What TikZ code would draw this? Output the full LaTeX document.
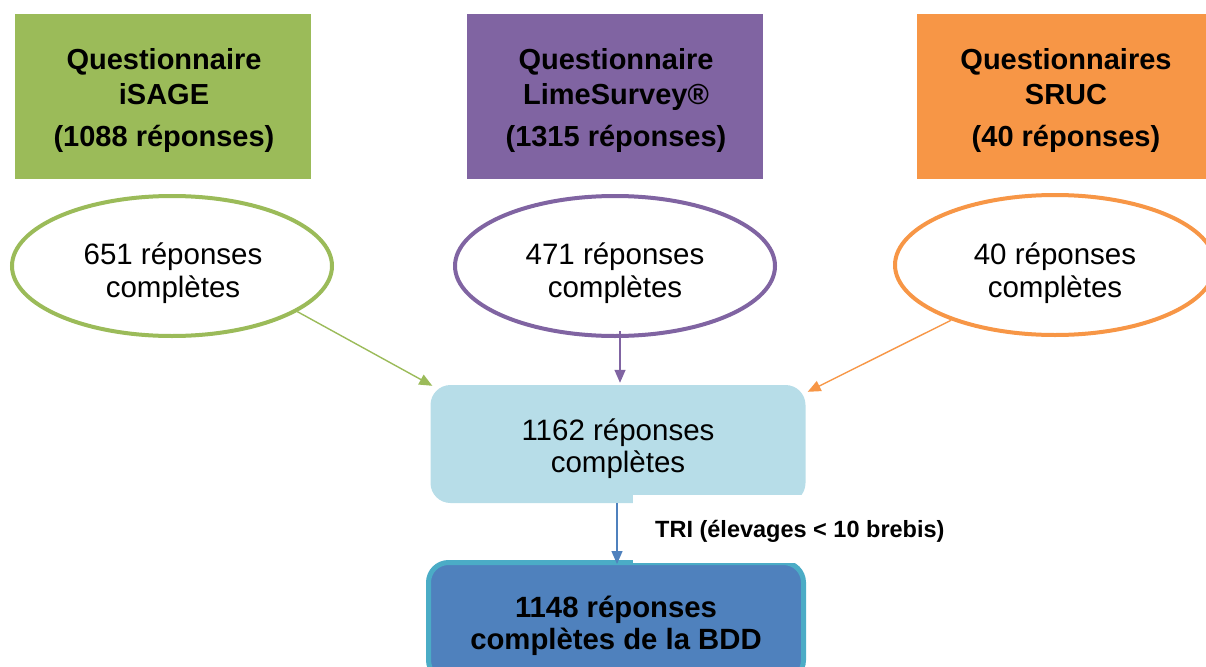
\documentclass[tikz,border=0pt]{standalone}
\usepackage{fontspec}
\setmainfont{Liberation Sans}
\usetikzlibrary{arrows.meta,shapes.geometric,calc}
\definecolor{cgreen}{HTML}{9BBB59}
\definecolor{cpurple}{HTML}{8064A2}
\definecolor{corange}{HTML}{F79646}
\definecolor{clight}{HTML}{B7DDE8}
\definecolor{cdark}{HTML}{4F81BD}
\definecolor{cborder}{HTML}{4BACC6}
\tikzset{
  srcbox/.style={rectangle, minimum width=296pt, minimum height=165pt, inner sep=0pt},
  srctext/.style={inner sep=0pt, align=center, font=\bfseries\fontsize{29}{35}\selectfont},
  oval/.style={ellipse, draw, line width=4pt, fill=white, minimum width=320pt, minimum height=140pt,
    inner sep=0pt},
  ovaltext/.style={inner sep=0pt, align=center, font=\fontsize{29.5}{33}\selectfont},
  conn/.style={line width=1.4pt, -{Triangle[length=13pt,width=11pt]}},
  trilabel/.style={inner sep=0pt, font=\bfseries\fontsize{23.5}{28}\selectfont}
}
\begin{document}
\begin{tikzpicture}[x=1pt,y=-1pt]
\useasboundingbox (0,0) rectangle (1206,666);
\clip (0,0) rectangle (1206,666);
% source boxes
\node[srcbox, fill=cgreen] (q1) at (163,96.5) {};
\node[srcbox, fill=cpurple] (q2) at (615,96.5) {};
\node[srcbox, fill=corange] (q3) at (1065,96.5) {};
\node[srctext] (q1t) at (164,101) {Questionnaire\\iSAGE\\[7pt] (1088 réponses)};
\node[srctext] (q2t) at (616,101) {Questionnaire\\LimeSurvey®\\[7pt] (1315 réponses)};
\node[srctext] (q3t) at (1066,101) {Questionnaires\\SRUC\\[7pt] (40 réponses)};
% ellipses
\node[oval, draw=cgreen] (e1) at (172,266) {};
\node[oval, draw=cpurple] (e2) at (615,266) {};
\node[oval, draw=corange] (e3) at (1055,265) {};
\node[ovaltext] (e1t) at (173,273.5) {651 réponses\\complètes};
\node[ovaltext] (e2t) at (615,273.5) {471 réponses\\complètes};
\node[ovaltext] (e3t) at (1055,273) {40 réponses\\complètes};
% merged box
\node[rectangle, rounded corners=20pt, fill=clight, minimum width=375pt, minimum height=118pt,
  inner sep=0pt] (mid) at (618,444) {};
\node[ovaltext, font=\fontsize{29.5}{32}\selectfont] (midt) at (618,449) {1162 réponses\\complètes};
% final box
\node[rectangle, rounded corners=20pt, fill=cdark, draw=cborder, line width=5pt,
  minimum width=375pt, minimum height=117.5pt, inner sep=0pt] (bot) at (616,621.25) {};
\node[srctext, font=\bfseries\fontsize{29.3}{32}\selectfont] (bott) at (616,625.5)
  {1148 réponses\\complètes de la BDD};
% label with its white background
\node[rectangle, fill=white, inner sep=0pt, minimum width=340pt, minimum height=68pt, anchor=west]
  (trib) at (633,529) {};
\node[trilabel, anchor=west] (tri) at (655,531) {TRI (élevages < 10 brebis)};
% connectors
\draw[conn, cgreen] (e1.-20) -- ($(mid.north west)+(2,1)$);
\draw[conn, cpurple] ($(e2.south)+(5,-7)$) -- ($(e2.south |- mid.north)+(5,-2)$);
\draw[conn, corange] (e3.208) -- ($(mid.north east)+(2,7)$);
\draw[conn, cdark] ($(mid.south)+(-1,0)$) -- ($(mid.south |- bot.north)+(-1,4)$);
\end{tikzpicture}
\end{document}
